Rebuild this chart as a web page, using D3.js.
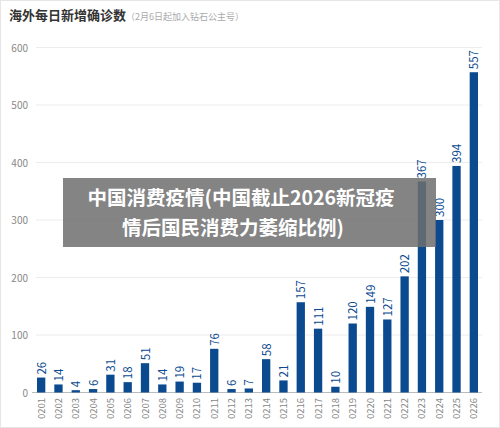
<!DOCTYPE html>
<html><head><meta charset="utf-8">
<script src="https://cdn.jsdelivr.net/npm/d3@7"></script>
<style>body{margin:0;background:#fff;}svg{display:block;font-family:"Noto Sans CJK SC","Noto Sans",sans-serif;}</style>
</head><body>
<svg id="c" width="500" height="428"></svg>
<script>
const categories=["0201","0202","0203","0204","0205","0206","0207","0208","0209","0210","0211","0212","0213","0214","0215","0216","0217","0218","0219","0220","0221","0222","0223","0224","0225","0226"];
const values=[26,14,4,6,31,18,51,14,19,17,76,6,7,58,21,157,111,10,120,149,127,202,367,300,394,557];
const yTicks=[0,100,200,300,400,500,600];
const svg=d3.select("#c");
svg.append("rect").attr("x",0.5).attr("y",0.5).attr("width",499).attr("height",427).attr("fill","none").attr("stroke","#e6e6e6");
const x=d3.scaleBand().domain(categories).range([32.5,482.5]).paddingInner(0.52).paddingOuter(0.26);
const y=d3.scaleLinear().domain([0,600]).range([392.5,47.5]);
svg.append("g").selectAll("line").data(yTicks.slice(1)).join("line")
 .attr("x1",36).attr("x2",482).attr("y1",d=>y(d)).attr("y2",d=>y(d)).attr("stroke","#ececec");
svg.append("g").selectAll("text").data(yTicks).join("text")
 .attr("x",28).attr("y",d=>y(d)+4).attr("text-anchor","end").attr("font-size",10).attr("fill","#888").text(d=>d);
svg.append("line").attr("x1",32).attr("x2",482).attr("y1",y(0)).attr("y2",y(0)).attr("stroke","#bbb");
svg.append("g").selectAll("rect").data(values).join("rect")
 .attr("x",(d,i)=>x(categories[i])).attr("width",x.bandwidth()).attr("y",d=>y(d)).attr("height",d=>y(0)-y(d)).attr("fill","#0b4a8f");
svg.append("g").selectAll("text").data(values).join("text")
 .attr("transform",(d,i)=>`translate(${x(categories[i])+x.bandwidth()/2+4.5},${y(d)-3}) rotate(-90)`)
 .attr("font-size",11.5).attr("fill","#0b4a8f").text(d=>d);
svg.append("g").selectAll("text").data(categories).join("text")
 .attr("transform",d=>`translate(${x(d)+x.bandwidth()/2+3.5},398) rotate(-90)`)
 .attr("text-anchor","end").attr("font-size",9.5).attr("fill","#888").text(d=>d);
const t=svg.append("text").attr("x",9).attr("y",20);
t.append("tspan").attr("font-size",13).attr("font-weight","bold").attr("fill","#333").text("海外每日新增确诊数");
t.append("tspan").attr("font-size",9).attr("fill","#aaa").text("（2月6日起加入钻石公主号）");
svg.append("rect").attr("x",63).attr("y",178).attr("width",373).attr("height",69).attr("fill","rgba(110,110,110,0.85)");
svg.append("text").attr("x",241).attr("y",205).attr("text-anchor","middle").attr("font-size",19.5).attr("font-weight","bold").attr("fill","#fff").text("中国消费疫情(中国截止2026新冠疫");
svg.append("text").attr("x",233).attr("y",235).attr("text-anchor","middle").attr("font-size",19.5).attr("font-weight","bold").attr("fill","#fff").text("情后国民消费力萎缩比例)");
</script></body></html>
